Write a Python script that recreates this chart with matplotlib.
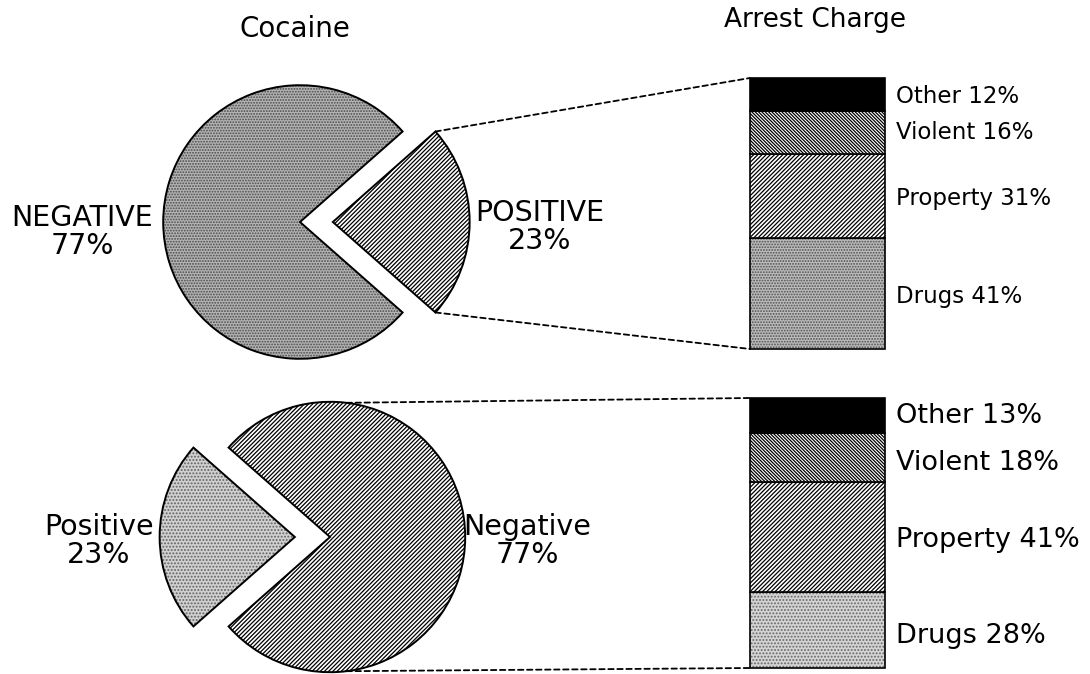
import numpy as np
import matplotlib.pyplot as plt
from matplotlib.patches import ConnectionPatch

plt.rcParams['font.family'] = ['DejaVu Sans']
plt.rcParams['hatch.linewidth'] = 0.9

W, H = 1090, 674

# ---- data ----
top_pie_values = [23, 77]            # cocaine positive / negative
top_pie_labels = ['POSITIVE\n23%', 'NEGATIVE\n77%']
bot_pie_values = [23, 77]
bot_pie_labels = ['Positive\n23%', 'Negative\n77%']
charges = ['Drugs', 'Property', 'Violent', 'Other']   # bottom -> top of bar
top_charge_pct = [41, 31, 16, 12]
bot_charge_pct = [28, 41, 18, 13]

DASH = (0, (3, 2))
LINES = '////////'
BACK = '\\' * 10
DOTS = '......'
DOTS_LIGHT = '.....'


def px_axes(fig, left, top, width, height):
    """Axes placed by pixel box (origin top-left)."""
    return fig.add_axes([left / W, 1 - (top + height) / H, width / W, height / H])


def draw_pie(ax, values, faces, hatches, hatch_cols, explode, start):
    fills, _ = ax.pie(values, explode=explode, startangle=start, colors=faces,
                      wedgeprops=dict(linewidth=0))
    for w, h, hc in zip(fills, hatches, hatch_cols):
        w.set_hatch(h)
        w.set_edgecolor(hc)
    edges, _ = ax.pie(values, explode=explode, startangle=start,
                      wedgeprops=dict(fill=False, edgecolor='black', linewidth=1.4))
    ax.set_xlim(-1.25, 1.25)
    ax.set_ylim(-1.25, 1.25)
    ax.set_aspect('equal')
    ax.axis('off')
    return edges


def draw_bar(ax, pct, styles, fs, label_dy):
    bottom = 0
    for name, p, (fc, h, hc), dy in zip(charges, pct, styles, label_dy):
        ax.bar(0.5, p, width=1, bottom=bottom, color=fc, hatch=h, edgecolor=hc,
               linewidth=0, clip_on=False)
        ax.bar(0.5, p, width=1, bottom=bottom, fill=False, edgecolor='black',
               linewidth=1.2, clip_on=False)
        ax.text(1.08, bottom + p / 2 + dy, f'{name} {p}%', fontsize=fs,
                va='center', ha='left')
        bottom += p
    ax.set_xlim(0, 1)
    ax.set_ylim(0, 100)
    ax.axis('off')


fig = plt.figure(figsize=(W / 100, H / 100), dpi=100)

# ---- top pie ----
ax_p1 = px_axes(fig, 300 - 171, 222 - 171, 342, 342)
half = top_pie_values[0] / 100 * 360 / 2
top_edges = draw_pie(ax_p1, top_pie_values,
                     faces=['white', '#b4b4b4'], hatches=[LINES, DOTS],
                     hatch_cols=['black', '#4a4a4a'],
                     explode=(0.24, 0), start=-half)
ax_p1.text(1.75, -0.04, top_pie_labels[0], ha='center', va='center',
           fontsize=20.5, linespacing=1.0)
ax_p1.text(-1.59, -0.07, top_pie_labels[1], ha='center', va='center',
           fontsize=20.5, linespacing=1.0)

# ---- bottom pie ----
ax_p2 = px_axes(fig, 330 - 169, 537 - 169, 338, 338)
half = bot_pie_values[0] / 100 * 360 / 2
bot_edges = draw_pie(ax_p2, bot_pie_values,
                     faces=['#d0d0d0', 'white'], hatches=[DOTS_LIGHT, LINES],
                     hatch_cols=['#606060', 'black'],
                     explode=(0.26, 0), start=180 - half)
ax_p2.text(-1.71, -0.03, bot_pie_labels[0], ha='center', va='center',
           fontsize=20.5, linespacing=1.0)
ax_p2.text(1.46, -0.03, bot_pie_labels[1], ha='center', va='center',
           fontsize=20.5, linespacing=1.0)

# ---- bars ----
ax_b1 = px_axes(fig, 750, 78, 135, 271)
draw_bar(ax_b1, top_charge_pct,
         [('#bcbcbc', DOTS, '#505050'), ('white', LINES, 'black'),
          ('white', BACK, 'black'), ('black', '', 'black')],
         fs=16.5, label_dy=[-1, -1, 0, -1])
ax_b2 = px_axes(fig, 750, 398, 135, 270)
draw_bar(ax_b2, bot_charge_pct,
         [('#d4d4d4', DOTS_LIGHT, '#666666'), ('white', LINES, 'black'),
          ('white', BACK, 'black'), ('black', '', 'black')],
         fs=19.5, label_dy=[-2, -1, -2, 0])

# ---- dashed connectors ----
w = top_edges[0]
cx, cy = w.center
for theta, yb in ((w.theta2, 100), (w.theta1, 0)):
    pt = (cx + w.r * np.cos(np.deg2rad(theta)), cy + w.r * np.sin(np.deg2rad(theta)))
    fig.add_artist(ConnectionPatch(xyA=pt, coordsA=ax_p1.transData,
                                   xyB=(0, yb), coordsB=ax_b1.transData,
                                   color='black', linestyle=DASH, linewidth=1.3))
w = bot_edges[1]
cx, cy = w.center
for theta, yb in ((83, 100), (-83, 0)):
    pt = (cx + w.r * np.cos(np.deg2rad(theta)), cy + w.r * np.sin(np.deg2rad(theta)))
    fig.add_artist(ConnectionPatch(xyA=pt, coordsA=ax_p2.transData,
                                   xyB=(0, yb), coordsB=ax_b2.transData,
                                   color='black', linestyle=DASH, linewidth=1.3))

# ---- titles ----
fig.text(295 / W, 1 - 29 / H, 'Cocaine', ha='center', va='center', fontsize=20)
fig.text(815 / W, 1 - 20 / H, 'Arrest Charge', ha='center', va='center', fontsize=19)

fig.savefig('out.png', dpi=100)
